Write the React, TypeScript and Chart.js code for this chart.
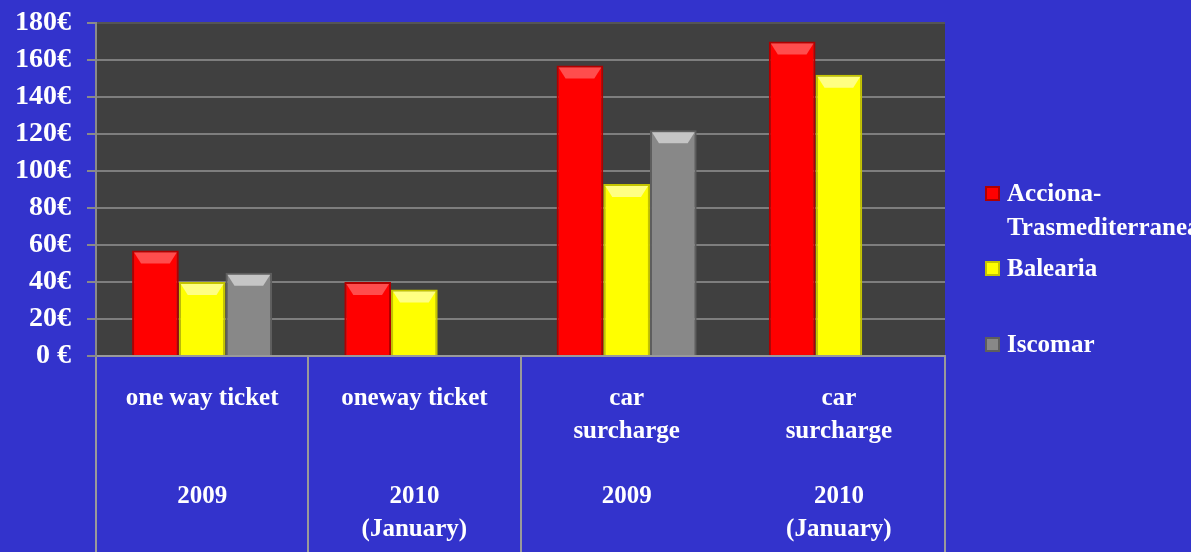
import React, { useEffect, useRef } from "react";
import { Chart, registerables } from "chart.js";

Chart.register(...registerables);

// ---- data ----
const categories: string[][] = [
  ["one way ticket", "", "", "2009"],
  ["oneway ticket", "", "", "2010", "(January)"],
  ["car", "surcharge", "", "2009"],
  ["car", "surcharge", "", "2010", "(January)"],
];
const seriesNames = ["Acciona-Trasmediterranea", "Balearia", "Iscomar"];
const legendLines: string[][] = [["Acciona-", "Trasmediterranea"], ["Balearia"], ["Iscomar"]];
const accionaValues = [57, 40, 157, 170];
const baleariaValues = [40, 36, 93, 152];
const iscomarValues: (number | null)[] = [45, null, 122, null];
const yTickLabels = ["0 €", "20€", "40€", "60€", "80€", "100€", "120€", "140€", "160€", "180€"];

// ---- styles ----
const BG = "#3333cc";
const PLOT_BG = "#404040";
const fills = ["#ff0000", "#ffff00", "#888888"];
const borders = ["#b00000", "#c4c400", "#5e5e5e"];
const highlights = ["#ff5a5a", "#ffff9a", "#d0d0d0"];
const FONT = "'Liberation Serif', 'Times New Roman', serif";

const plotBackground = {
  id: "plotBackground",
  beforeDraw(chart: any) {
    const { ctx, chartArea } = chart;
    if (!chartArea) return;
    ctx.save();
    ctx.fillStyle = PLOT_BG;
    ctx.fillRect(chartArea.left, chartArea.top, chartArea.right - chartArea.left, chartArea.bottom - chartArea.top);
    ctx.restore();
  },
};

const barBevel = {
  id: "barBevel",
  afterDatasetsDraw(chart: any) {
    const { ctx } = chart;
    chart.data.datasets.forEach((ds: any, di: number) => {
      const meta = chart.getDatasetMeta(di);
      meta.data.forEach((bar: any, i: number) => {
        if (ds.data[i] == null) return;
        const { x, y, width, base } = bar.getProps(["x", "y", "width", "base"], true);
        const l = x - width / 2 + 2;
        const r = x + width / 2 - 2;
        const h = Math.min(11, (base - y) / 3);
        ctx.save();
        ctx.fillStyle = highlights[di];
        ctx.globalAlpha = 0.85;
        ctx.beginPath();
        ctx.moveTo(l, y + 2);
        ctx.lineTo(r, y + 2);
        ctx.lineTo(r - 7, y + 2 + h);
        ctx.lineTo(l + 7, y + 2 + h);
        ctx.closePath();
        ctx.fill();
        ctx.restore();
      });
    });
  },
};

export default function App() {
  const canvasRef = useRef<HTMLCanvasElement | null>(null);

  useEffect(() => {
    if (!canvasRef.current) return;
    const seriesValues = [accionaValues, baleariaValues, iscomarValues];
    const chart = new Chart(canvasRef.current, {
      type: "bar",
      data: {
        labels: categories,
        datasets: seriesNames.map((name, i) => ({
          label: name,
          data: seriesValues[i],
          backgroundColor: fills[i],
          borderColor: borders[i],
          borderWidth: 2,
          categoryPercentage: 0.66,
          barPercentage: 1.0,
        })),
      },
      options: {
        animation: false,
        responsive: true,
        maintainAspectRatio: false,
        layout: { padding: { top: 23, right: 246, left: 0, bottom: 0 } },
        plugins: {
          legend: { display: false },
          tooltip: { enabled: false },
        },
        scales: {
          x: {
            type: "category",
            offset: true,
            grid: {
              offset: true,
              drawOnChartArea: false,
              drawTicks: true,
              tickLength: 200,
              lineWidth: 2,
              color: (ctx: any) => (ctx.index === 3 ? "rgba(0,0,0,0)" : "#9a9a9a"),
            },
            border: { display: true, color: "#9a9a9a", width: 2 },
            ticks: {
              color: "#ffffff",
              padding: -174,
              maxRotation: 0,
              autoSkip: false,
              font: { family: FONT, size: 25, weight: "bold", lineHeight: 1.31 },
            },
            afterFit: (scale: any) => {
              scale.height = 196;
              scale.paddingLeft = 0;
              scale.paddingRight = 0;
            },
          },
          y: {
            min: 0,
            max: 180,
            ticks: {
              stepSize: 20,
              autoSkip: false,
              color: "#ffffff",
              padding: 16,
              font: { family: FONT, size: 28, weight: "bold" },
              callback: (_v: any, index: number) => yTickLabels[index],
            },
            grid: {
              color: (ctx: any) => (ctx.index === 9 ? "#555555" : "#7e7e7e"),
              tickColor: "#8a8a8a",
              lineWidth: 2,
              tickLength: 9,
            },
            border: { display: true, color: "#8a8a8a", width: 2 },
            afterFit: (scale: any) => {
              scale.width = 96;
              scale.paddingTop = 0;
              scale.paddingBottom = 0;
            },
          },
        },
      } as any,
      plugins: [plotBackground, barBevel],
    });
    return () => chart.destroy();
  }, []);

  const legendTops = [176, 251, 327];

  return (
    <div
      style={{
        position: "fixed",
        left: 0,
        top: 0,
        width: 1191,
        height: 552,
        background: BG,
        overflow: "hidden",
      }}
    >
      <canvas ref={canvasRef} style={{ position: "absolute", left: 0, top: 0 }} />
      {legendLines.map((lines, i) => (
        <div
          key={i}
          style={{
            position: "absolute",
            left: 985,
            top: legendTops[i],
            display: "flex",
            alignItems: "flex-start",
            whiteSpace: "nowrap",
          }}
        >
          <div
            style={{
              width: 11,
              height: 11,
              marginTop: 10,
              background: fills[i],
              border: `2px solid ${borders[i]}`,
              marginRight: 7,
              flex: "0 0 auto",
            }}
          />
          <div
            style={{
              color: "#ffffff",
              fontFamily: FONT,
              fontWeight: "bold",
              fontSize: 25,
              lineHeight: "34px",
            }}
          >
            {lines.map((t, k) => (
              <div key={k}>{t}</div>
            ))}
          </div>
        </div>
      ))}
    </div>
  );
}
